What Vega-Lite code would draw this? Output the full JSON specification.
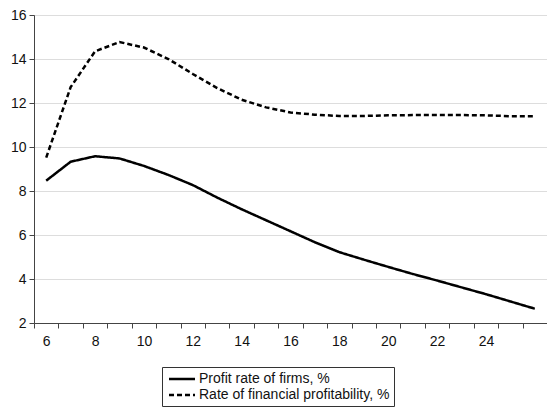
{
  "$schema": "https://vega.github.io/schema/vega-lite/v6.json",
  "width": 513,
  "height": 308,
  "autosize": {"type": "none"},
  "padding": {"left": 34, "top": 15, "right": 0, "bottom": 87},
  "background": "white",
  "config": {
    "view": {"stroke": "#888888", "strokeWidth": 1},
    "font": "Liberation Sans",
    "axis": {"labelFont": "Liberation Sans", "labelFontSize": 14, "labelColor": "#111111", "domainColor": "#444444", "tickColor": "#444444", "title": null},
    "legend": {"labelFont": "Liberation Sans", "labelFontSize": 14, "labelColor": "#111111"}
  },
  "data": {
    "values": [
      {"t": 6, "series": "Profit rate of firms, %", "v": 8.47},
      {"t": 7, "series": "Profit rate of firms, %", "v": 9.33},
      {"t": 8, "series": "Profit rate of firms, %", "v": 9.58},
      {"t": 9, "series": "Profit rate of firms, %", "v": 9.48},
      {"t": 10, "series": "Profit rate of firms, %", "v": 9.14},
      {"t": 11, "series": "Profit rate of firms, %", "v": 8.73},
      {"t": 12, "series": "Profit rate of firms, %", "v": 8.27},
      {"t": 13, "series": "Profit rate of firms, %", "v": 7.7},
      {"t": 14, "series": "Profit rate of firms, %", "v": 7.17},
      {"t": 15, "series": "Profit rate of firms, %", "v": 6.67},
      {"t": 16, "series": "Profit rate of firms, %", "v": 6.17},
      {"t": 17, "series": "Profit rate of firms, %", "v": 5.67},
      {"t": 18, "series": "Profit rate of firms, %", "v": 5.22},
      {"t": 19, "series": "Profit rate of firms, %", "v": 4.88},
      {"t": 20, "series": "Profit rate of firms, %", "v": 4.55},
      {"t": 21, "series": "Profit rate of firms, %", "v": 4.23},
      {"t": 22, "series": "Profit rate of firms, %", "v": 3.93},
      {"t": 23, "series": "Profit rate of firms, %", "v": 3.62},
      {"t": 24, "series": "Profit rate of firms, %", "v": 3.31},
      {"t": 25, "series": "Profit rate of firms, %", "v": 2.98},
      {"t": 26, "series": "Profit rate of firms, %", "v": 2.65},
      {"t": 6, "series": "Rate of financial profitability, %", "v": 9.52},
      {"t": 7, "series": "Rate of financial profitability, %", "v": 12.72},
      {"t": 8, "series": "Rate of financial profitability, %", "v": 14.35},
      {"t": 9, "series": "Rate of financial profitability, %", "v": 14.77},
      {"t": 10, "series": "Rate of financial profitability, %", "v": 14.52},
      {"t": 11, "series": "Rate of financial profitability, %", "v": 14.0},
      {"t": 12, "series": "Rate of financial profitability, %", "v": 13.32},
      {"t": 13, "series": "Rate of financial profitability, %", "v": 12.68},
      {"t": 14, "series": "Rate of financial profitability, %", "v": 12.15},
      {"t": 15, "series": "Rate of financial profitability, %", "v": 11.8},
      {"t": 16, "series": "Rate of financial profitability, %", "v": 11.57},
      {"t": 17, "series": "Rate of financial profitability, %", "v": 11.47},
      {"t": 18, "series": "Rate of financial profitability, %", "v": 11.41},
      {"t": 19, "series": "Rate of financial profitability, %", "v": 11.41},
      {"t": 20, "series": "Rate of financial profitability, %", "v": 11.44},
      {"t": 21, "series": "Rate of financial profitability, %", "v": 11.45},
      {"t": 22, "series": "Rate of financial profitability, %", "v": 11.45},
      {"t": 23, "series": "Rate of financial profitability, %", "v": 11.45},
      {"t": 24, "series": "Rate of financial profitability, %", "v": 11.44},
      {"t": 25, "series": "Rate of financial profitability, %", "v": 11.4},
      {"t": 26, "series": "Rate of financial profitability, %", "v": 11.4}
    ]
  },
  "mark": {"type": "line", "color": "black", "strokeWidth": 2.5},
  "encoding": {
    "x": {
      "field": "t",
      "type": "quantitative",
      "scale": {"domain": [5.5, 26.5], "nice": false, "zero": false},
      "axis": {
        "values": [6, 7, 8, 9, 10, 11, 12, 13, 14, 15, 16, 17, 18, 19, 20, 21, 22, 23, 24, 25, 26],
        "tickOffset": -12.21,
        "labelOffset": 12.21,
        "tickSize": 5,
        "labelPadding": 6,
        "grid": false,
        "labelExpr": "datum.value % 2 == 0 && datum.value <= 24 ? datum.label : ''"
      }
    },
    "y": {
      "field": "v",
      "type": "quantitative",
      "scale": {"domain": [2, 16], "nice": false, "zero": false},
      "axis": {
        "values": [2, 4, 6, 8, 10, 12, 14, 16],
        "grid": true,
        "gridColor": "#dddddd",
        "gridWidth": 1,
        "tickSize": 5,
        "labelPadding": 3
      }
    },
    "strokeDash": {
      "field": "series",
      "type": "nominal",
      "scale": {
        "domain": ["Profit rate of firms, %", "Rate of financial profitability, %"],
        "range": [[1, 0], [5, 3]]
      },
      "legend": {
        "title": null,
        "orient": "none",
        "legendX": 128,
        "legendY": 352,
        "padding": 4,
        "rowPadding": 1,
        "strokeColor": "#333333",
        "fillColor": "white",
        "symbolType": "M-2,0H2",
        "symbolSize": 169,
        "symbolOffset": 8,
        "symbolStrokeWidth": 2.5,
        "symbolStrokeColor": "black",
        "symbolFillColor": "transparent",
        "labelOffset": 9,
        "labelLimit": 400,
        "cornerRadius": 0
      }
    }
  }
}
